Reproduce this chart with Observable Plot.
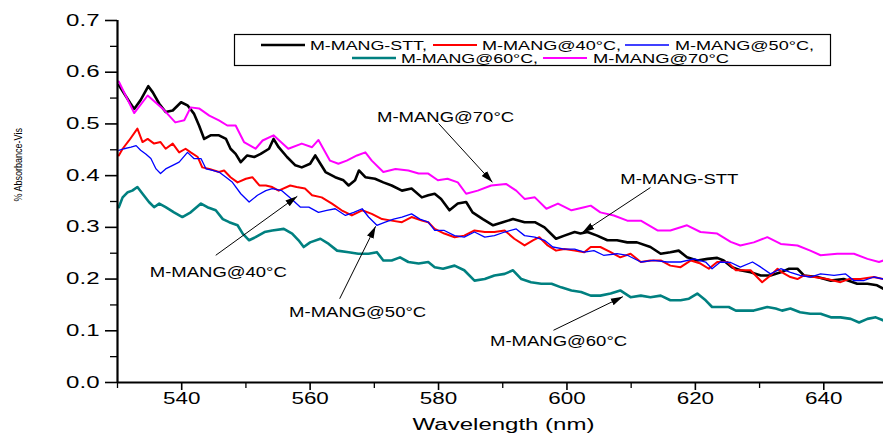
<!DOCTYPE html>
<html>
<head>
<meta charset="utf-8">
<script src="https://cdn.jsdelivr.net/npm/d3@7"></script>
<script src="https://cdn.jsdelivr.net/npm/@observablehq/plot@0.6"></script>
<style>
  html, body { margin: 0; padding: 0; background: #fff; }
  #chart { width: 883px; height: 434px; overflow: hidden; }
</style>
</head>
<body>
<div id="chart"></div>
<script>
// ---------------- data ----------------
const sttNm = [530.2,532.0,532.6,533.6,534.8,535.5,536.5,537.5,538.6,539.9,540.9,541.9,542.7,543.5,544.5,545.8,546.9,547.6,548.4,549.2,550.2,551.3,552.3,553.6,554.3,555.1,556.4,557.7,558.7,560.0,560.8,561.6,562.4,563.9,565.2,566.0,567.0,567.6,568.6,570.1,571.4,572.7,574.3,575.8,577.4,578.4,579.4,580.4,581.7,583.0,584.3,585.3,586.9,588.5,590.0,591.6,593.4,595.0,596.5,598.3,599.6,601.2,602.1,603.2,604.7,606.3,607.8,609.4,610.9,613.0,614.6,616.1,617.4,618.7,620.3,621.9,623.4,624.4,625.7,627.0,628.6,630.2,631.7,633.3,634.6,635.9,636.9,639.0,641.1,643.1,645.2,646.8,648.3,649.3];
const sttAbs = [0.575,0.540,0.529,0.546,0.573,0.561,0.539,0.523,0.526,0.542,0.536,0.520,0.497,0.471,0.478,0.478,0.471,0.452,0.442,0.426,0.439,0.436,0.442,0.452,0.471,0.455,0.436,0.420,0.416,0.423,0.439,0.423,0.407,0.397,0.391,0.381,0.391,0.410,0.397,0.394,0.387,0.381,0.371,0.375,0.358,0.362,0.365,0.355,0.333,0.346,0.349,0.329,0.316,0.304,0.310,0.316,0.310,0.310,0.300,0.278,0.284,0.291,0.288,0.291,0.284,0.275,0.275,0.271,0.271,0.262,0.249,0.252,0.255,0.242,0.236,0.239,0.241,0.236,0.223,0.217,0.213,0.207,0.207,0.213,0.220,0.220,0.207,0.204,0.197,0.200,0.191,0.191,0.188,0.181];

const m40Nm = [530.2,530.8,531.8,533.1,533.9,534.7,535.7,536.7,537.5,538.6,539.6,540.6,541.4,542.5,543.2,544.3,545.8,546.6,547.6,548.7,550.0,551.0,552.1,553.1,554.1,555.1,556.9,557.9,559.2,560.3,561.8,563.4,564.9,566.5,568.1,569.6,571.2,572.7,574.3,575.8,577.4,578.4,579.4,580.9,582.5,584.0,585.6,587.2,588.7,590.3,591.8,593.4,594.7,595.7,597.0,598.3,599.6,601.2,602.7,603.7,605.2,606.8,608.3,609.9,611.5,613.0,614.6,616.1,617.7,619.3,620.8,622.1,623.4,625.0,626.3,628.6,629.6,630.4,631.7,632.8,633.5,634.8,635.9,636.9,638.5,640.5,642.6,643.9,645.7,647.8,649.3];
const m40Abs = [0.439,0.452,0.468,0.491,0.465,0.471,0.462,0.465,0.452,0.462,0.445,0.452,0.445,0.436,0.416,0.413,0.407,0.410,0.397,0.387,0.394,0.397,0.381,0.381,0.378,0.371,0.381,0.378,0.375,0.362,0.358,0.346,0.333,0.323,0.333,0.326,0.316,0.313,0.310,0.320,0.313,0.310,0.297,0.288,0.281,0.284,0.294,0.291,0.291,0.294,0.278,0.265,0.275,0.281,0.265,0.255,0.258,0.255,0.252,0.262,0.262,0.252,0.242,0.249,0.233,0.236,0.236,0.226,0.223,0.236,0.230,0.220,0.233,0.233,0.217,0.217,0.204,0.194,0.207,0.220,0.213,0.204,0.200,0.207,0.204,0.200,0.194,0.200,0.200,0.204,0.200];

const m50Nm = [530.2,531.0,532.1,532.9,533.6,534.4,535.2,536.0,536.7,537.5,538.6,539.6,540.9,541.9,543.0,543.8,544.8,545.8,546.9,547.9,549.2,550.5,551.8,553.1,554.1,555.6,557.1,558.5,559.8,561.3,562.6,563.9,565.5,566.8,568.1,569.1,570.4,571.7,573.0,574.3,575.8,577.1,578.4,579.4,580.9,582.5,584.0,585.6,587.2,588.7,590.3,592.1,593.4,595.0,596.5,597.8,599.6,601.2,602.7,604.2,605.7,607.8,609.4,611.5,613.5,615.6,617.7,619.8,621.6,622.6,623.9,625.5,627.0,628.9,630.2,631.7,633.3,634.8,636.3,637.9,639.5,641.6,643.4,644.7,646.2,647.8,649.3];
const m50Abs = [0.449,0.452,0.455,0.458,0.449,0.442,0.433,0.413,0.404,0.413,0.420,0.426,0.445,0.433,0.433,0.413,0.410,0.407,0.397,0.387,0.365,0.349,0.362,0.371,0.375,0.371,0.355,0.339,0.339,0.329,0.333,0.336,0.323,0.329,0.336,0.320,0.304,0.310,0.316,0.320,0.326,0.316,0.310,0.294,0.294,0.284,0.281,0.291,0.281,0.284,0.291,0.297,0.284,0.281,0.275,0.262,0.258,0.258,0.252,0.255,0.246,0.249,0.246,0.233,0.236,0.233,0.233,0.239,0.233,0.220,0.233,0.232,0.223,0.233,0.223,0.210,0.220,0.213,0.207,0.204,0.210,0.207,0.210,0.197,0.197,0.204,0.200];

const m60Nm = [530.2,530.8,531.6,532.3,533.1,533.9,534.9,535.7,536.5,537.5,538.8,540.1,541.4,543.0,544.0,545.3,546.4,547.4,548.7,549.5,550.5,551.5,552.9,554.1,555.9,557.2,558.2,559.0,560.0,561.6,562.9,564.2,566.0,567.5,569.1,570.4,571.4,572.7,574.0,575.3,576.9,578.4,579.4,580.7,582.5,584.0,585.6,587.2,588.7,590.3,591.6,592.9,594.4,596.0,597.6,599.1,600.7,602.2,603.7,605.2,606.8,608.3,609.9,611.5,613.0,614.6,616.1,617.7,619.0,620.3,621.6,622.6,623.9,625.2,626.3,627.0,629.1,631.2,632.5,633.5,634.8,636.3,637.9,639.5,641.1,642.6,644.2,645.5,646.8,648.1,649.3];
const m60Abs = [0.339,0.358,0.368,0.371,0.378,0.365,0.349,0.339,0.346,0.339,0.329,0.320,0.329,0.346,0.339,0.333,0.316,0.310,0.304,0.288,0.275,0.281,0.291,0.294,0.297,0.288,0.275,0.262,0.271,0.278,0.268,0.255,0.252,0.249,0.249,0.252,0.236,0.236,0.242,0.233,0.230,0.233,0.223,0.220,0.226,0.217,0.197,0.200,0.207,0.210,0.217,0.200,0.194,0.191,0.191,0.184,0.178,0.175,0.168,0.168,0.172,0.178,0.165,0.168,0.165,0.168,0.159,0.159,0.162,0.172,0.159,0.146,0.146,0.146,0.139,0.139,0.139,0.146,0.143,0.139,0.143,0.136,0.133,0.133,0.126,0.126,0.123,0.116,0.123,0.126,0.120];

const m70Nm = [530.2,532.6,534.7,537.0,539.0,540.4,541.4,542.7,544.3,545.8,547.1,548.4,549.7,551.5,552.6,554.3,556.6,558.7,560.3,561.3,563.1,564.4,565.7,567.3,568.6,569.6,571.4,573.3,575.3,576.9,578.4,579.9,581.4,583.0,584.3,586.1,588.2,590.5,592.1,593.4,595.0,596.8,598.6,600.7,602.7,603.7,605.2,607.3,609.4,611.5,614.1,616.1,618.7,620.8,623.4,625.5,627.0,629.1,631.2,633.3,635.9,637.9,639.5,642.1,644.7,646.8,648.6,649.3];
const m70Abs = [0.582,0.521,0.555,0.530,0.503,0.507,0.532,0.530,0.516,0.507,0.497,0.497,0.465,0.452,0.468,0.478,0.452,0.462,0.455,0.469,0.429,0.423,0.429,0.439,0.445,0.429,0.407,0.413,0.410,0.404,0.404,0.391,0.394,0.387,0.365,0.371,0.381,0.384,0.371,0.355,0.358,0.336,0.346,0.333,0.339,0.342,0.329,0.323,0.313,0.313,0.294,0.294,0.304,0.291,0.288,0.272,0.265,0.271,0.281,0.268,0.265,0.255,0.246,0.249,0.249,0.239,0.233,0.236];

const seriesNames  = ["M-MANG-STT", "M-MANG@40°C", "M-MANG@50°C", "M-MANG@60°C", "M-MANG@70°C"];
const legendLabels = ["M-MANG-STT,", "M-MANG@40°C,", "M-MANG@50°C,", "M-MANG@60°C,", "M-MANG@70°C"];

const xMajorTicks = [540, 560, 580, 600, 620, 640];
const xMinorTicks = [530, 550, 570, 590, 610, 630];
const yMajorTicks = [0, 0.1, 0.2, 0.3, 0.4, 0.5, 0.6, 0.7];
const yMinorTicks = [0.05, 0.15, 0.25, 0.35, 0.45, 0.55, 0.65];

// annotations (text centre and arrow start/end, in data units)
const annotLabels = ["M-MANG@70°C", "M-MANG-STT", "M-MANG@40°C", "M-MANG@50°C", "M-MANG@60°C"];
const annotX  = [581.1, 617.5, 545.7, 567.4, 598.7];
const annotY  = [0.512, 0.393, 0.213, 0.135, 0.079];
const arrowX1 = [580.0, 613.0, 545.3, 564.6, 597.9];
const arrowY1 = [0.501, 0.377, 0.246, 0.162, 0.101];
const arrowX2 = [588.4, 602.4, 558.0, 570.2, 608.7];
const arrowY2 = [0.387, 0.290, 0.360, 0.302, 0.166];

// ---------------- styles ----------------
const colors = ["#000000", "#ff0000", "#0000ff", "#008080", "#ff00ff"];
const widths = [2.6, 2.0, 1.3, 2.6, 2.0];
const FONT = "'Liberation Sans', Arial, Helvetica, sans-serif";

const series = [
  [sttNm, sttAbs], [m40Nm, m40Abs], [m50Nm, m50Abs], [m60Nm, m60Abs], [m70Nm, m70Abs]
];
const rows = series.map(([xs, ys], i) => xs.map((x, j) => ({name: seriesNames[i], nm: x, abs: ys[j]})));
const annots = annotLabels.map((t, i) => ({t, x: annotX[i], y: annotY[i], x1: arrowX1[i], y1: arrowY1[i], x2: arrowX2[i], y2: arrowY2[i]}));

const NS = "http://www.w3.org/2000/svg";
function headMarker(color, context) {
  const doc = (context && context.document) || document;
  const m = doc.createElementNS(NS, "marker");
  m.setAttribute("viewBox", "-12 -5 12 10");
  m.setAttribute("markerWidth", 12);
  m.setAttribute("markerHeight", 10);
  m.setAttribute("markerUnits", "userSpaceOnUse");
  m.setAttribute("orient", "auto");
  m.setAttribute("refX", 0);
  m.setAttribute("refY", 0);
  const p = doc.createElementNS(NS, "path");
  p.setAttribute("d", "M-12,-3.6L0,0L-12,3.6Z");
  p.setAttribute("fill", "#000");
  p.setAttribute("stroke", "none");
  m.appendChild(p);
  return m;
}

function build(customMarker) {
  const arrowMark = customMarker
    ? Plot.link(annots, {x1: "x1", y1: "y1", x2: "x2", y2: "y2", stroke: "#000", strokeWidth: 1, markerEnd: headMarker})
    : Plot.arrow(annots, {x1: "x1", y1: "y1", x2: "x2", y2: "y2", stroke: "#000", strokeWidth: 1, headLength: 11, headAngle: 40});
  return Plot.plot({
    width: 883, height: 434,
    marginLeft: 117, marginRight: 0, marginTop: 20, marginBottom: 52,
    style: {fontFamily: FONT, background: "#fff", color: "#000", overflow: "visible"},
    x: {domain: [530, 649.3]},
    y: {domain: [0, 0.7]},
    marks: [
      ...rows.map((r, i) => Plot.line(r, {x: "nm", y: "abs", stroke: colors[i], strokeWidth: widths[i], strokeLinejoin: "round"})),
      // axes: minor & major tick marks, then labels
      Plot.axisY(yMinorTicks, {tickSize: 7, text: null, strokeWidth: 1.3, label: null}),
      Plot.axisY(yMajorTicks, {tickSize: 12, tickPadding: 6, tickFormat: d3.format(".1f"), fontSize: 16, strokeWidth: 1.6, label: null}),
      Plot.axisX(xMinorTicks, {tickSize: 6, text: null, strokeWidth: 1.3, label: null}),
      Plot.axisX(xMajorTicks, {tickSize: 8, text: null, strokeWidth: 1.6, label: null}),
      Plot.axisX(xMajorTicks, {tickSize: 0, tickPadding: 10, fontSize: 16, label: null}),
      Plot.ruleX([530], {y1: 0, y2: 0.7, stroke: "#000", strokeWidth: 2.2}),
      Plot.ruleY([0], {stroke: "#000", strokeWidth: 2.2}),
      // axis titles
      Plot.text(["Wavelength (nm)"], {text: d => d, frameAnchor: "bottom", dy: 42, dx: 3, fontSize: 16, lineAnchor: "middle", className: "xtitle"}),
      Plot.text(["% Absorbance-Vis"], {text: d => d, frameAnchor: "left", dx: -99, rotate: -90, fontSize: 10, lineAnchor: "middle", className: "ytitle"}),
      // annotations
      arrowMark,
      Plot.text(annots, {x: "x", y: "y", text: "t", fontSize: 14, lineAnchor: "middle", fill: "#000", className: "annot"})
    ]
  });
}

let plot;
try { plot = build(true); } catch (e) { plot = build(false); }
document.getElementById("chart").appendChild(plot);

// horizontally stretch text to match the reference's wide lettering
function stretchText(t, f) {
  const w = t.getComputedTextLength();
  if (w > 0) {
    t.setAttribute("textLength", (w * f).toFixed(1));
    t.setAttribute("lengthAdjust", "spacingAndGlyphs");
  }
}
function stretch(sel, f) {
  plot.querySelectorAll(sel).forEach(t => stretchText(t, f));
}
stretch('g[aria-label="x-axis tick label"] text', 1.4);
stretch('g[aria-label="y-axis tick label"] text', 1.5);
// text marks: identify by content
plot.querySelectorAll("text").forEach(t => {
  const s = t.textContent;
  if (s === "Wavelength (nm)") stretchText(t, 1.5);
  else if (s === "% Absorbance-Vis") stretchText(t, 0.9);
  else if (annotLabels.includes(s)) stretchText(t, 1.32);
});

// ---------------- legend (drawn inside the plot area) ----------------
const legendLayout = {
  box: {x: 234.5, y: 34.5, w: 596, h: 31},
  items: [
    {line: 261, text: 310, w: 117, y: 45},
    {line: 433, text: 482, w: 139, y: 45},
    {line: 625, text: 675, w: 139, y: 45},
    {line: 352, text: 401, w: 137, y: 58},
    {line: 543, text: 593, w: 136, y: 58}
  ],
  lineLen: 44
};
const svg = d3.select(plot);
const lg = svg.append("g").attr("aria-label", "legend").attr("text-anchor", "start");
lg.append("rect")
  .attr("x", legendLayout.box.x).attr("y", legendLayout.box.y)
  .attr("width", legendLayout.box.w).attr("height", legendLayout.box.h)
  .attr("fill", "#fff").attr("stroke", "#000").attr("stroke-width", 1.2);
legendLayout.items.forEach((it, i) => {
  lg.append("line")
    .attr("x1", it.line).attr("x2", it.line + legendLayout.lineLen)
    .attr("y1", it.y).attr("y2", it.y)
    .attr("stroke", colors[i]).attr("stroke-width", widths[i]);
  lg.append("text")
    .attr("x", it.text).attr("y", it.y).attr("dy", "0.35em")
    .attr("text-anchor", "start")
    .attr("font-family", FONT).attr("font-size", 13.5)
    .attr("textLength", it.w).attr("lengthAdjust", "spacingAndGlyphs")
    .text(legendLabels[i]);
});
</script>
</body>
</html>
